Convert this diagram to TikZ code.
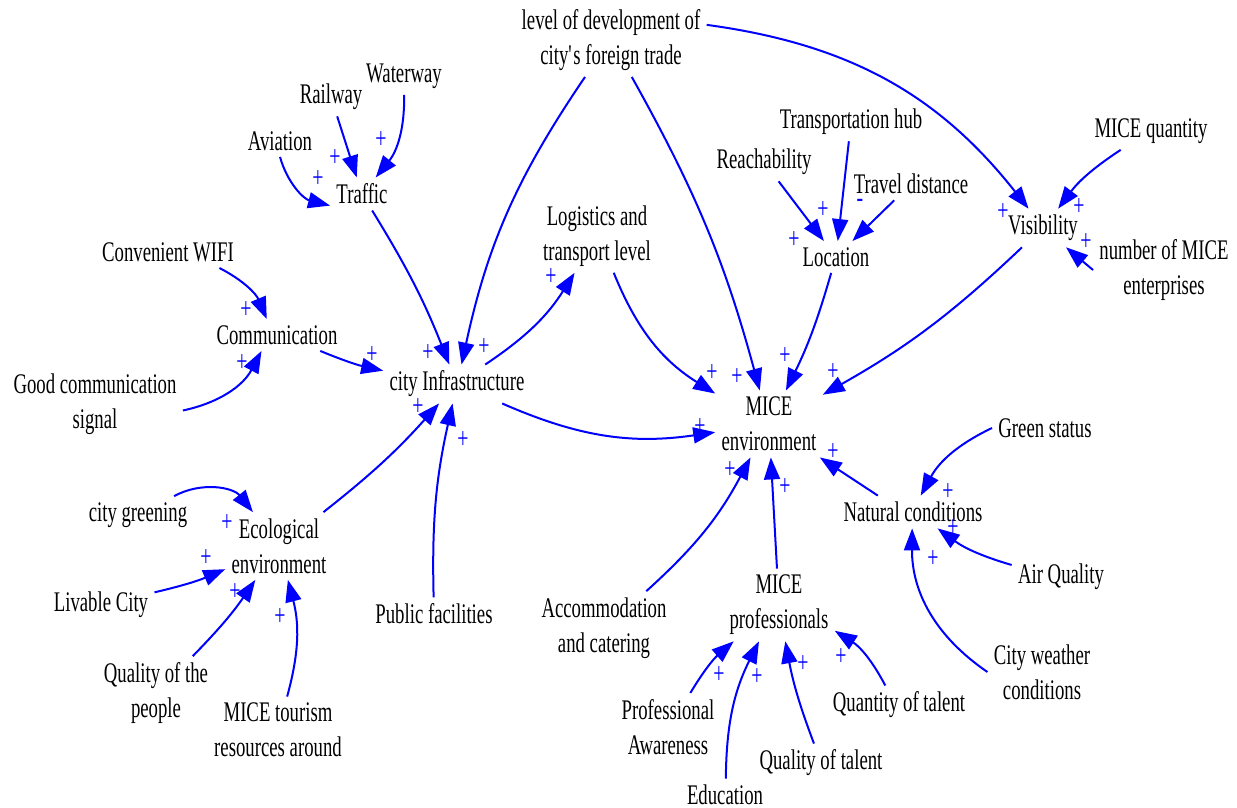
\documentclass[tikz,border=0pt]{standalone}
\usepackage{fontspec}
\setmainfont{Liberation Serif}[FakeStretch=0.66]
\usepackage{xcolor}
\usepackage{tikz}
\usetikzlibrary{arrows.meta}
\definecolor{linkblue}{RGB}{0, 0, 255}
\newcommand{\varfont}{\fontsize{14.2}{17.5}\selectfont}
\newcommand{\signfont}{\fontsize{15}{15}\selectfont}

\begin{document}
\begin{tikzpicture}[x=0.5pt, y=0.5pt,
         var/.style = {align=center, inner sep=3pt, font=\varfont},
        sign/.style = {text=linkblue, inner sep=0pt, font=\signfont},
        link/.style = {draw=linkblue, line width=1pt, -{Triangle[length=11pt, width=8pt]}}]
    \useasboundingbox (0,0) rectangle (1237,-808);
    \node[var] (trade)         at (611,-40)  {level of development of\\city\textquotesingle s foreign trade};
    \node[var] (waterway)      at (404,-76)  {Waterway};
    \node[var] (railway)       at (331,-97)  {Railway};
    \node[var] (aviation)      at (280,-141) {Aviation};
    \node[var] (traffic)       at (362,-194) {Traffic};
    \node[var] (hub)           at (851,-122) {Transportation hub};
    \node[var] (reach)         at (764,-162) {Reachability};
    \node[var] (distance)      at (911,-184) {Travel distance};
    \node[var] (location)      at (836,-257) {Location};
    \node[var] (quantity)      at (1151,-131) {MICE quantity};
    \node[var] (visibility)    at (1043,-228) {Visibility};
    \node[var] (enterprises)   at (1164,-270) {number of MICE\\enterprises};
    \node[var] (logistics)     at (597,-236) {Logistics and\\transport level};
    \node[var] (wifi)          at (168,-252) {Convenient WIFI};
    \node[var] (communication) at (277,-335) {Communication};
    \node[var] (signal)        at (95,-404)  {Good communication\\signal};
    \node[var] (infra)         at (457,-384) {city Infrastructure};
    \node[var] (env)           at (769,-424) {MICE\\environment};
    \node[var] (green)         at (1045,-428) {Green status};
    \node[var] (natural)       at (913,-512) {Natural conditions};
    \node[var] (air)           at (1061,-577) {Air Quality};
    \node[var] (weather)       at (1042,-672) {City weather\\conditions};
    \node[var] (greening)      at (138,-515) {city greening};
    \node[var] (ecological)    at (279,-546) {Ecological\\environment};
    \node[var] (livable)       at (101,-605) {Livable City};
    \node[var] (public)        at (434,-614) {Public facilities};
    \node[var] (accommodation) at (604,-628) {Accommodation\\and catering};
    \node[var] (professionals) at (779,-605) {MICE\\professionals};
    \node[var] (people)        at (156,-693) {Quality of the\\people};
    \node[var] (tourism)       at (278,-730) {MICE tourism\\resources around};
    \node[var] (awareness)     at (668,-727) {Professional\\Awareness};
    \node[var] (education)     at (725,-795) {Education};
    \node[var] (qualtalent)    at (821,-763) {Quality of talent};
    \node[var] (quanttalent)   at (899,-705) {Quantity of talent};

    \draw[link] (waterway) to[bend left=20] (traffic);
    \draw[link] (railway) -- (traffic);
    \draw[link] (aviation.south) to[bend right=30] (traffic.200);
    \draw[link] (traffic) to[bend left=5] (infra);
    \draw[link] (trade) to[bend right=11] (infra);
    \draw[link] (communication) to[bend right=5] (infra);
    \draw[link] (wifi) to[bend left=20] (communication);
    \draw[link] (signal) to[bend right=25] (communication);
    \draw[link] (ecological) to[bend right=5] (infra);
    \draw[link] (public) to[bend left=7] (infra);
    \draw[link] (infra) to[bend right=12] (logistics);
    \draw[link] (infra) to[bend right=16] (env);
    \draw[link] (logistics) to[bend right=18] (env);
    \draw[link] (trade) to[bend left=7] (env);
    \draw[link] (location) to[bend left=5] (env);
    \draw[link] (visibility) to[bend left=7] (env);
    \draw[link] (trade.9) to[bend left=22] (visibility);
    \draw[link] (quantity) to[bend right=10] (visibility);
    \draw[link] (enterprises.west) -- (visibility);
    \draw[link] (reach) -- (location);
    \draw[link] (hub) -- (location);
    \draw[link] (distance) -- (location);
    \draw[link] (natural.155) -- (env);
    \draw[link] (green.west) to[bend right=18] (natural);
    \draw[link] (air) to[bend left=10] (natural);
    \draw[link] (weather.west) to[bend left=28] (natural);
    \draw[link] (accommodation) to[bend right=10] (env);
    \draw[link] (professionals) -- (env);
    \draw[link] (greening) to[bend left=40] (ecological);
    \draw[link] (livable) to[bend right=5] (ecological);
    \draw[link] (people) to[bend right=5] (ecological);
    \draw[link] (tourism) to[bend right=15] (ecological);
    \draw[link] (awareness) to[bend left=9] (professionals);
    \draw[link] (education) to[bend left=13] (professionals);
    \draw[link] (qualtalent) to[bend left=5] (professionals);
    \draw[link] (quanttalent) to[bend right=15] (professionals);

    \node[sign] (p1)  at (381,-140) {+};
    \node[sign] (p2)  at (335,-158) {+};
    \node[sign] (p3)  at (318,-179) {+};
    \node[sign] (p4)  at (428,-353) {+};
    \node[sign] (p5)  at (484,-347) {+};
    \node[sign] (p6)  at (372,-355) {+};
    \node[sign] (p7)  at (246,-310) {+};
    \node[sign] (p8)  at (242,-363) {+};
    \node[sign] (p9)  at (551,-277) {+};
    \node[sign] (p10) at (418,-407) {+};
    \node[sign] (p11) at (463,-440) {+};
    \node[sign] (p12) at (700,-427) {+};
    \node[sign] (p13) at (712,-373) {+};
    \node[sign] (p14) at (737,-377) {+};
    \node[sign] (p15) at (785,-356) {+};
    \node[sign] (p16) at (833,-372) {+};
    \node[sign] (p17) at (1003,-212) {+};
    \node[sign] (p18) at (1079,-207) {+};
    \node[sign] (p19) at (1086,-242) {+};
    \node[sign] (p20) at (794,-240) {+};
    \node[sign] (p21) at (823,-210) {+};
    \node[sign] (m1)  at (860,-203) {-};
    \node[sign] (p22) at (833,-452) {+};
    \node[sign] (p23) at (948,-492) {+};
    \node[sign] (p24) at (953,-528) {+};
    \node[sign] (p25) at (933,-559) {+};
    \node[sign] (p26) at (730,-470) {+};
    \node[sign] (p27) at (785,-487) {+};
    \node[sign] (p28) at (227,-523) {+};
    \node[sign] (p29) at (206,-558) {+};
    \node[sign] (p30) at (235,-592) {+};
    \node[sign] (p31) at (280,-617) {+};
    \node[sign] (p32) at (719,-675) {+};
    \node[sign] (p33) at (757,-677) {+};
    \node[sign] (p34) at (803,-664) {+};
    \node[sign] (p35) at (841,-657) {+};
\end{tikzpicture}
\end{document}
